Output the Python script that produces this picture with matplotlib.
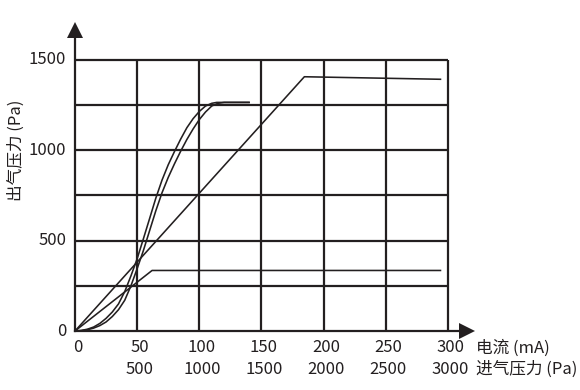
import matplotlib
matplotlib.use("Agg")
import matplotlib.pyplot as plt
import matplotlib.transforms as mtransforms

plt.rcParams['font.family'] = ['Noto Sans CJK SC', 'DejaVu Sans']

# ---- data ----
x_ticks = [0, 50, 100, 150, 200, 250, 300]
x_labels_current = ["0", "50", "100", "150", "200", "250", "300"]
x_labels_pressure = ["", "500", "1000", "1500", "2000", "2500", "3000"]
y_ticks = [0, 500, 1000, 1500]
y_grid = [250, 500, 750, 1000, 1250, 1500]

low_x = [0, 62, 294]
low_y = [0, 335, 335]

diag_x = [0, 184.5, 294]
diag_y = [0, 1407, 1393]

curveA_x = [0, 5, 10, 15, 20, 25, 30, 35, 40, 45, 50, 55, 60, 65, 70, 75, 80, 85, 90, 95, 100, 105, 110, 114, 140]
curveA_y = [0, 3, 10, 22, 42, 70, 105, 150, 218, 305, 400, 510, 622, 735, 835, 920, 993, 1062, 1125, 1175, 1215, 1245, 1260, 1265, 1265]

curveB_x = [0, 5, 10, 15, 20, 25, 30, 35, 40, 45, 50, 55, 60, 65, 70, 75, 80, 85, 90, 95, 100, 105, 110, 115, 120, 140]
curveB_y = [0, 2, 7, 16, 30, 50, 80, 118, 170, 250, 345, 445, 555, 665, 765, 850, 925, 995, 1060, 1118, 1170, 1212, 1245, 1260, 1265, 1265]

ink = "#231f20"
fs = 12

fig = plt.figure(figsize=(5.8, 3.9), dpi=100)
ax = fig.add_axes([75/580, 59/390, (472.8-75)/580, (331-23.8)/390])
ax.set_xlim(0, 320)
ax.set_ylim(0, 1700)
for s in ax.spines.values():
    s.set_visible(False)
ax.set_xticks([])
ax.set_yticks([])

# grid
for xv in x_ticks[1:]:
    ax.plot([xv, xv], [0, 1500], color=ink, lw=1.6, solid_capstyle='butt')
for yv in y_grid:
    ax.plot([0, 300], [yv, yv], color=ink, lw=1.6, solid_capstyle='butt')

# axes with arrows
ax.plot([0, 0], [0, 1640], color=ink, lw=1.6, clip_on=False)
ax.plot([0, 310], [0, 0], color=ink, lw=1.6, clip_on=False)
ax.plot([0], [1665], marker='^', markersize=11, color=ink, clip_on=False, markeredgewidth=0)
ax.plot([315], [0], marker='>', markersize=11, color=ink, clip_on=False, markeredgewidth=0)

# curves
lw = 1.15
ax.plot(low_x, low_y, color=ink, lw=lw)
ax.plot(diag_x, diag_y, color=ink, lw=lw)
ax.plot(curveA_x, curveA_y, color=ink, lw=lw, solid_joinstyle='round')
ax.plot(curveB_x, curveB_y, color=ink, lw=lw, solid_joinstyle='round')

# y tick labels
for yv in y_ticks:
    ax.text(-7, yv, str(yv), ha='right', va='center', fontsize=fs, color=ink)

# x tick labels
trans = mtransforms.blended_transform_factory(ax.transData, fig.transFigure)
for xv, l1, l2 in zip(x_ticks, x_labels_current, x_labels_pressure):
    ax.text(xv + 2, 1 - 348/390, l1, ha='center', va='center', fontsize=fs, color=ink, transform=trans)
    if l2:
        ax.text(xv + 2, 1 - 369/390, l2, ha='center', va='center', fontsize=fs, color=ink, transform=trans)

fig.text(476/580, 1 - 348/390, "电流 (mA)", ha='left', va='center', fontsize=fs, color=ink)
fig.text(476/580, 1 - 369/390, "进气压力 (Pa)", ha='left', va='center', fontsize=fs, color=ink)
fig.text(16/580, 1 - 150/390, "出气压力 (Pa)", ha='center', va='center', rotation=90, fontsize=fs, color=ink)

fig.savefig("out.png", dpi=100)
